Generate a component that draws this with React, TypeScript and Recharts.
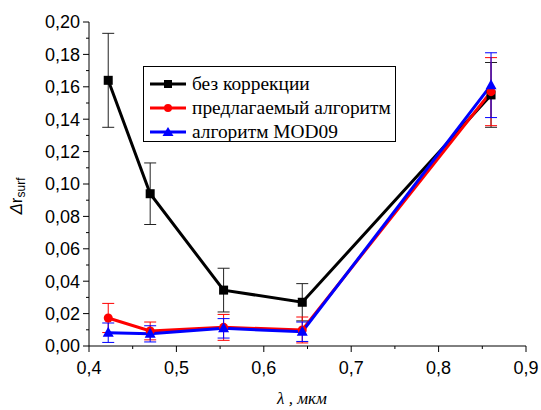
import React from 'react';
import { LineChart, Line, XAxis, YAxis, ErrorBar, Legend } from 'recharts';

const xValues = [0.422, 0.47, 0.554, 0.644, 0.86];
const noCorr = [0.164, 0.094, 0.0345, 0.027, 0.155];
const noCorrErr = [0.029, 0.019, 0.0135, 0.0115, 0.02];
const proposed = [0.0173, 0.0093, 0.0115, 0.0099, 0.157];
const proposedErr = [0.009, 0.0055, 0.008, 0.008, 0.021];
const mod09 = [0.0082, 0.0075, 0.0109, 0.0088, 0.161];
const mod09Err = [0.006, 0.005, 0.006, 0.006, 0.02];

const yTicks = [0, 0.01, 0.02, 0.03, 0.04, 0.05, 0.06, 0.07, 0.08, 0.09, 0.1, 0.11, 0.12, 0.13, 0.14, 0.15, 0.16, 0.17, 0.18, 0.19, 0.2];
const xTicks = [0.4, 0.45, 0.5, 0.55, 0.6, 0.65, 0.7, 0.75, 0.8, 0.85, 0.9];

const seriesNames = ['без коррекции', 'предлагаемый алгоритм', 'алгоритм MOD09'];
const seriesColors = ['#000000', '#ff0000', '#0000ff'];

const build = (ys: number[], errs: number[]) =>
  xValues.map((x, i) => ({ x, y: ys[i], err: errs[i] }));

const dataNoCorr = build(noCorr, noCorrErr);
const dataProposed = build(proposed, proposedErr);
const dataMod09 = build(mod09, mod09Err);

const TICK_FONT = '"Liberation Sans", Arial, sans-serif';
const SERIF = '"Liberation Serif", "DejaVu Serif", serif';

const YTick = (props: any) => {
  const { x, y, payload } = props;
  const v = payload.value as number;
  const major = Math.round(v * 100) % 2 === 0;
  return (
    <g>
      <line x1={x} x2={x - (major ? 6 : 3)} y1={y} y2={y} stroke="#000" strokeWidth={1} />
      {major && (
        <text x={x - 9} y={y} dy="0.36em" textAnchor="end" fontSize={18} fontFamily={TICK_FONT} fill="#000">
          {v.toFixed(2).replace('.', ',')}
        </text>
      )}
    </g>
  );
};

const XTick = (props: any) => {
  const { x, y, payload } = props;
  const v = payload.value as number;
  const major = Math.round(v * 100) % 10 === 0;
  return (
    <g>
      <line x1={x} x2={x} y1={y} y2={y + (major ? 6 : 3)} stroke="#000" strokeWidth={1} />
      {major && (
        <text x={x} y={y + 28} textAnchor="middle" fontSize={18} fontFamily={TICK_FONT} fill="#000">
          {v.toFixed(1).replace('.', ',')}
        </text>
      )}
    </g>
  );
};

const XLabel = (props: any) => {
  const vb = props.viewBox || { x: 89, y: 346, width: 437 };
  return (
    <text x={vb.x + 213} y={vb.y + 58} textAnchor="middle" fontSize={17} fontFamily={SERIF} fontStyle="italic" fill="#000">
      λ , мкм
    </text>
  );
};

const YLabel = () => {
  const cx = 22;
  const cy = 196;
  return (
    <text x={cx} y={cy} transform={`rotate(-90, ${cx}, ${cy})`} textAnchor="middle" fontSize={17} fontFamily={TICK_FONT} fill="#000">
      <tspan fontStyle="italic">Δ</tspan>
      <tspan>r</tspan>
      <tspan fontSize={12} dy={3}>surf</tspan>
    </text>
  );
};

const squareDot = (props: any) => {
  const { cx, cy, index } = props;
  if (cx == null || cy == null) return <g key={index} />;
  return <rect key={index} x={cx - 4.5} y={cy - 4.5} width={9} height={9} fill="#000" />;
};
const circleDot = (props: any) => {
  const { cx, cy, index } = props;
  if (cx == null || cy == null) return <g key={index} />;
  return <circle key={index} cx={cx} cy={cy} r={4.5} fill="#ff0000" />;
};
const triangleDot = (props: any) => {
  const { cx, cy, index } = props;
  if (cx == null || cy == null) return <g key={index} />;
  return <polygon key={index} points={`${cx},${cy - 6} ${cx - 5.5},${cy + 4} ${cx + 5.5},${cy + 4}`} fill="#0000ff" />;
};

const LegendMarker = ({ i }: { i: number }) => {
  const c = seriesColors[i];
  return (
    <svg width={36} height={12} style={{ display: 'block', flex: 'none' }}>
      <line x1={0} x2={36} y1={6} y2={6} stroke={c} strokeWidth={3} />
      {i === 0 && <rect x={14} y={2} width={8} height={8} fill={c} />}
      {i === 1 && <circle cx={18} cy={6} r={4} fill={c} />}
      {i === 2 && <polygon points="18,1 12.5,10 23.5,10" fill={c} />}
    </svg>
  );
};

const renderLegend = () => (
  <div
    style={{
      border: '1px solid #000',
      background: '#fff',
      width: 251,
      height: 74,
      boxSizing: 'content-box',
      padding: 0,
      fontFamily: SERIF,
      fontSize: 19.4,
      color: '#000',
    }}
  >
    {seriesNames.map((n, i) => (
      <div key={n} style={{ display: 'flex', alignItems: 'center', height: 24, marginTop: i === 0 ? 5 : 0, paddingLeft: 6 }}>
        <LegendMarker i={i} />
        <span style={{ marginLeft: 6, whiteSpace: 'nowrap', lineHeight: '24px', fontFamily: SERIF }}>{n}</span>
      </div>
    ))}
  </div>
);

export default function App() {
  return (
    <div style={{ position: 'absolute', left: 0, top: 0, background: '#fff' }}>
      <LineChart width={541} height={410} margin={{ top: 22, right: 15, bottom: 24, left: 9 }}>
        <XAxis
          type="number"
          dataKey="x"
          domain={[0.4, 0.9]}
          ticks={xTicks}
          interval={0}
          allowDataOverflow
          tickSize={0}
          tickMargin={0}
          tickLine={false}
          tick={<XTick />}
          axisLine={{ stroke: '#000', strokeWidth: 1 }}
          height={40}
          label={<XLabel />}
        />
        <YAxis
          type="number"
          domain={[0, 0.2]}
          ticks={yTicks}
          interval={0}
          allowDataOverflow
          tickSize={0}
          tickMargin={0}
          tickLine={false}
          tick={<YTick />}
          axisLine={{ stroke: '#000', strokeWidth: 1 }}
          width={80}
          label={<YLabel />}
        />
        <Legend
          verticalAlign="middle"
          align="center"
          layout="horizontal"
          content={renderLegend}
          wrapperStyle={{ left: 143, top: 66, width: 253, height: 76 }}
        />
        <Line
          data={dataNoCorr}
          dataKey="y"
          name={seriesNames[0]}
          stroke={seriesColors[0]}
          strokeWidth={3}
          dot={squareDot}
          activeDot={false}
          isAnimationActive={false}
        >
          <ErrorBar dataKey="err" direction="y" width={6} stroke="#222" strokeWidth={1} isAnimationActive={false} />
        </Line>
        <Line
          data={dataProposed}
          dataKey="y"
          name={seriesNames[1]}
          stroke={seriesColors[1]}
          strokeWidth={3}
          dot={circleDot}
          activeDot={false}
          isAnimationActive={false}
        >
          <ErrorBar dataKey="err" direction="y" width={6} stroke="#ff0000" strokeWidth={1} isAnimationActive={false} />
        </Line>
        <Line
          data={dataMod09}
          dataKey="y"
          name={seriesNames[2]}
          stroke={seriesColors[2]}
          strokeWidth={3}
          dot={triangleDot}
          activeDot={false}
          isAnimationActive={false}
        >
          <ErrorBar dataKey="err" direction="y" width={6} stroke="#0000ff" strokeWidth={1} isAnimationActive={false} />
        </Line>
      </LineChart>
    </div>
  );
}
